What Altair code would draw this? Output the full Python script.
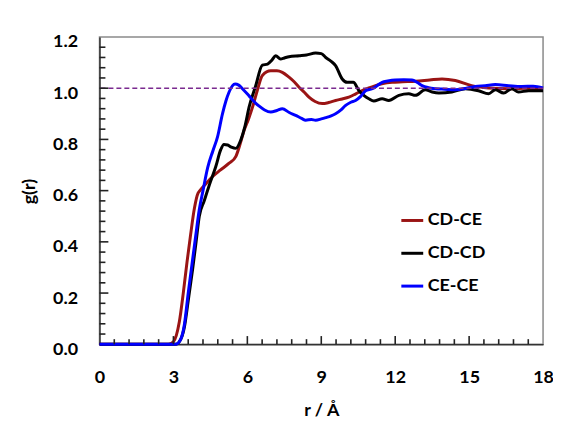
import altair as alt
import pandas as pd

# ---- data ----
cdce_r = [0, 2.8, 3.0, 3.24, 3.4, 3.55, 3.7, 3.85, 4.0, 4.05, 4.3, 4.59, 4.9, 5.26, 5.53, 5.7, 5.87, 6.05,
          6.21, 6.4, 6.61, 6.95, 7.2, 7.42, 7.69, 7.9, 8.1, 8.3, 8.5, 8.75, 9.04, 9.3, 9.58, 9.85, 10.12,
          10.4, 10.66, 10.9, 11.2, 11.5, 11.87, 12.3, 12.82, 13.4, 13.9, 14.44, 15.1, 15.79, 16.6, 17.3, 18]
cdce_g = [0, 0, 0.01, 0.088, 0.2, 0.32, 0.43, 0.53, 0.59, 0.597, 0.625, 0.655, 0.68, 0.707, 0.733, 0.78,
          0.836, 0.88, 0.926, 0.99, 1.05, 1.068, 1.068, 1.062, 1.043, 1.025, 1.004, 0.985, 0.965, 0.948,
          0.94, 0.944, 0.952, 0.958, 0.965, 0.978, 0.991, 1.0, 1.01, 1.018, 1.023, 1.025, 1.027, 1.032,
          1.036, 1.03, 1.01, 1.001, 0.998, 1.0, 0.998]

cdcd_r = [0, 3.1, 3.3, 3.45, 3.6, 3.78, 3.92, 4.05, 4.25, 4.45, 4.72, 4.92, 5.05, 5.2, 5.35, 5.53, 5.73,
          5.9, 6.07, 6.34, 6.61, 6.82, 7.0, 7.15, 7.35, 7.5, 7.69, 8.1, 8.4, 8.77, 9.0, 9.18, 9.4, 9.58,
          9.85, 10.05, 10.3, 10.53, 10.75, 10.93, 11.13, 11.47, 11.74, 12.15, 12.55, 12.82, 13.22, 13.5,
          13.77, 14.3, 14.85, 15.38, 15.79, 16.06, 16.4, 16.73, 17.0, 17.41, 18]
cdcd_g = [0, 0, 0.02, 0.07, 0.17, 0.294, 0.4, 0.5, 0.56, 0.62, 0.694, 0.76, 0.78, 0.778, 0.77, 0.765,
          0.797, 0.85, 0.926, 1.01, 1.09, 1.094, 1.11, 1.127, 1.114, 1.118, 1.123, 1.127, 1.13, 1.137,
          1.135, 1.12, 1.105, 1.088, 1.036, 1.023, 1.023, 0.99, 0.97, 0.959, 0.95, 0.959, 0.952, 0.972,
          0.978, 0.972, 0.994, 0.985, 0.981, 0.985, 0.998, 0.99, 0.978, 0.994, 0.981, 0.998, 0.985, 0.99, 0.99]

cece_r = [0, 3.1, 3.3, 3.45, 3.6, 3.75, 3.9, 4.05, 4.2, 4.39, 4.6, 4.79, 4.99, 5.13, 5.26, 5.4, 5.5, 5.65,
          5.8, 6.07, 6.3, 6.48, 6.7, 6.95, 7.2, 7.42, 7.7, 7.96, 8.2, 8.37, 8.6, 8.77, 9.0, 9.18, 9.4, 9.58,
          9.8, 9.99, 10.2, 10.39, 10.6, 10.8, 11.07, 11.3, 11.47, 11.7, 12.0, 12.35, 12.68, 12.9, 13.09,
          13.35, 13.63, 14.0, 14.44, 14.85, 15.25, 15.65, 16.06, 16.6, 17.14, 17.6, 18]
cece_g = [0, 0, 0.02, 0.08, 0.2, 0.31, 0.42, 0.526, 0.6, 0.69, 0.755, 0.81, 0.9, 0.95, 0.985, 1.01, 1.016,
          1.012, 0.998, 0.97, 0.945, 0.93, 0.915, 0.907, 0.913, 0.92, 0.905, 0.894, 0.882, 0.875, 0.878,
          0.875, 0.88, 0.885, 0.892, 0.9, 0.915, 0.933, 0.945, 0.952, 0.968, 0.99, 0.998, 1.012, 1.023,
          1.028, 1.032, 1.033, 1.032, 1.022, 1.01, 1.002, 0.998, 0.996, 0.994, 0.999, 1.007, 1.01, 1.014,
          1.01, 1.007, 1.008, 1.001]

series_names = ["CD-CE", "CD-CD", "CE-CE"]
series_colors = ["#9a1414", "#000000", "#0000ff"]

x_labels = [0, 3, 6, 9, 12, 15, 18]
y_labels = [0.0, 0.2, 0.4, 0.6, 0.8, 1.0, 1.2]
x_minor = [round(v * 0.6, 2) for v in range(1, 30) if v % 5]
x_major = [3, 6, 9, 12, 15]
y_minor = [round(v * 0.04, 2) for v in range(1, 30) if v % 5]
y_major = [0.2, 0.4, 0.6, 0.8, 1.0]

FONT = "Lato"
W, H = 446, 309

rows = []
for name, rs, gs in [("CD-CE", cdce_r, cdce_g), ("CD-CD", cdcd_r, cdcd_g), ("CE-CE", cece_r, cece_g)]:
    for r, g in zip(rs, gs):
        rows.append({"series": name, "r": r, "g": g})
df = pd.DataFrame(rows)

xscale = alt.Scale(domain=[0, 18], nice=False, zero=False)
yscale = alt.Scale(domain=[0, 1.2], nice=False, zero=False)

lines = alt.Chart(df).mark_line(strokeWidth=3, interpolate="monotone").encode(
    x=alt.X("r:Q", scale=xscale,
            axis=alt.Axis(values=x_labels, title="r / Å", format="d", grid=False, ticks=False,
                          labelFlush=False, labelPadding=24, titleY=72, titleBaseline="alphabetic")),
    y=alt.Y("g:Q", scale=yscale,
            axis=alt.Axis(values=y_labels, title="g(r)", format=".1f", grid=False, ticks=False,
                          labelFlush=False, labelPadding=22, labelOffset=5,
                          titleX=-70, titleY=155, titleAngle=270,
                          titleBaseline="middle", titleAlign="center")),
    color=alt.Color("series:N", scale=alt.Scale(domain=series_names, range=series_colors),
                    sort=series_names,
                    legend=alt.Legend(title=None, orient="none", legendX=302, legendY=172,
                                      symbolType="stroke", symbolSize=484, symbolStrokeWidth=3,
                                      labelFontSize=18, labelFont=FONT, labelFontWeight="bold",
                                      labelColor="#000", rowPadding=11, labelOffset=3, padding=0)),
)

ref = alt.Chart(pd.DataFrame({"y": [1.0]})).mark_rule(
    color="#7a2a8f", strokeWidth=1.5, strokeDash=[5, 3]).encode(y=alt.Y("y:Q", scale=yscale))

TICK = "#222222"
xt_minor = alt.Chart(pd.DataFrame({"tv": x_minor})).mark_rule(color=TICK, strokeWidth=1.6).encode(
    x=alt.X("tv:Q", scale=xscale), y=alt.datum(0), y2=alt.datum(0.02))
xt_major = alt.Chart(pd.DataFrame({"tv": x_major})).mark_rule(color=TICK, strokeWidth=1.6).encode(
    x=alt.X("tv:Q", scale=xscale), y=alt.datum(0), y2=alt.datum(0.032))
yt_minor = alt.Chart(pd.DataFrame({"tw": y_minor})).mark_rule(color=TICK, strokeWidth=1.6).encode(
    y=alt.Y("tw:Q", scale=yscale), x=alt.datum(0), x2=alt.datum(0.24))
yt_major = alt.Chart(pd.DataFrame({"tw": y_major})).mark_rule(color=TICK, strokeWidth=1.6).encode(
    y=alt.Y("tw:Q", scale=yscale), x=alt.datum(0), x2=alt.datum(0.36))

chart = alt.layer(lines, ref, xt_minor, xt_major, yt_minor, yt_major).properties(
    width=W, height=H,
    background="white",
    padding={"left": 92, "top": 28, "right": 10, "bottom": 75},
    autosize=alt.AutoSizeParams(type="none"),
).configure_view(
    stroke="#8a8a8a", strokeWidth=1.5
).configure_axis(
    domainColor="#333333", domainWidth=1.5,
    labelFont=FONT, labelFontSize=18, labelFontWeight="bold", labelColor="#000",
    titleFont=FONT, titleFontSize=18, titleFontWeight="bold", titleColor="#000",
)

chart.save("out.html", embed_options={"renderer": "svg", "actions": False})
